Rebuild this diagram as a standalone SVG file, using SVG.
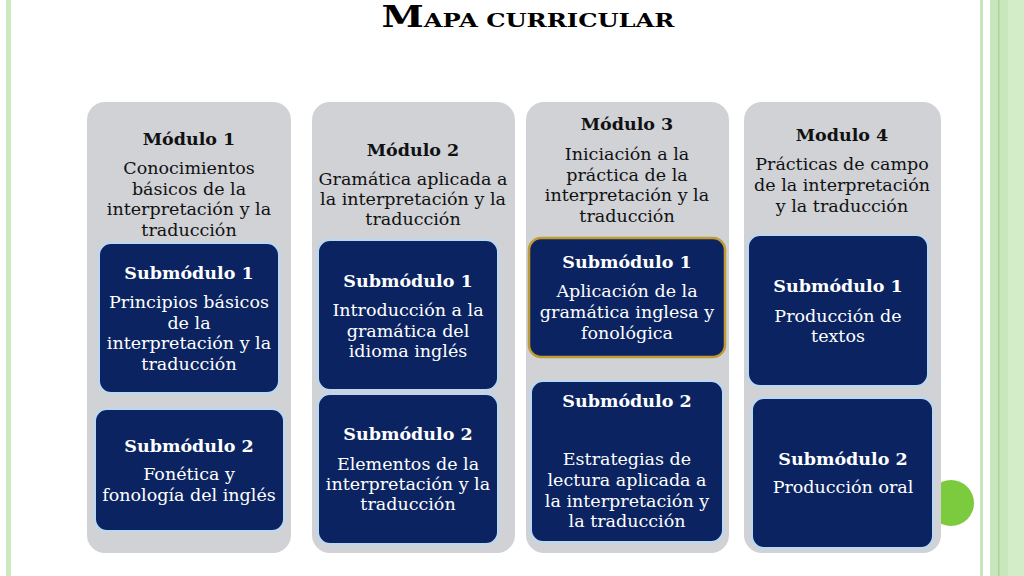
<svg xmlns="http://www.w3.org/2000/svg" width="1024" height="576" viewBox="0 0 1024 576">
<style>
.col{fill:#d0d2d6}
.sub{fill:#0b2461;stroke:#b9d9f2;stroke-width:2}
.gold{stroke:#c09a34;stroke-width:2.5}
.t{font-family:"DejaVu Serif",serif;font-size:17.5px;text-anchor:middle}
.dk{fill:#111}
.wh{fill:#fff}
.b{font-weight:bold}
</style>
<rect width="1024" height="576" fill="#fff"/>
<rect x="6" y="0" width="5" height="576" fill="#cde9c0"/>
<rect x="980" y="0" width="3" height="576" fill="#c8e6b9"/>
<rect x="990" y="0" width="34" height="576" fill="#c9e7bc"/>
<rect x="998" y="0" width="1.5" height="576" fill="#a9d591"/>
<rect x="1008" y="0" width="16" height="576" fill="#d3edc8"/>
<circle cx="951" cy="503" r="23" fill="#7ccb3e"/>
<text x="528" y="27" font-family="DejaVu Serif,serif" font-weight="bold" fill="#000" text-anchor="middle" textLength="293" lengthAdjust="spacingAndGlyphs"><tspan font-size="30">M</tspan><tspan font-size="19">APA CURRICULAR</tspan></text>
<g id="modulo1">
<rect class="col" x="87" y="102" width="204" height="451" rx="18"/>
<text class="t dk b" x="189" y="145">Módulo 1</text>
<text class="t dk" x="189" y="174">Conocimientos</text>
<text class="t dk" x="189" y="194.5">básicos de la</text>
<text class="t dk" x="189" y="215">interpretación y la</text>
<text class="t dk" x="189" y="235.5">traducción</text>
</g>
<g id="m1s1">
<rect class="sub" x="99" y="243" width="180" height="150" rx="12"/>
<text class="t wh b" x="189" y="279">Submódulo 1</text>
<text class="t wh" x="189" y="308">Principios básicos</text>
<text class="t wh" x="189" y="328.5">de la</text>
<text class="t wh" x="189" y="349">interpretación y la</text>
<text class="t wh" x="189" y="369.5">traducción</text>
</g>
<g id="m1s2">
<rect class="sub" x="95" y="409" width="189" height="122" rx="12"/>
<text class="t wh b" x="189" y="452">Submódulo 2</text>
<text class="t wh" x="189" y="480">Fonética y</text>
<text class="t wh" x="189" y="501">fonología del inglés</text>
</g>
<g id="modulo2">
<rect class="col" x="312" y="102" width="203" height="451" rx="18"/>
<text class="t dk b" x="413" y="156">Módulo 2</text>
<text class="t dk" x="413" y="185">Gramática aplicada a</text>
<text class="t dk" x="413" y="205">la interpretación y la</text>
<text class="t dk" x="413" y="225">traducción</text>
</g>
<g id="m2s1">
<rect class="sub" x="318" y="240" width="180" height="150" rx="12"/>
<text class="t wh b" x="408" y="287">Submódulo 1</text>
<text class="t wh" x="408" y="316">Introducción a la</text>
<text class="t wh" x="408" y="336.5">gramática del</text>
<text class="t wh" x="408" y="357">idioma inglés</text>
</g>
<g id="m2s2">
<rect class="sub" x="318" y="394" width="180" height="150" rx="12"/>
<text class="t wh b" x="408" y="440">Submódulo 2</text>
<text class="t wh" x="408" y="470">Elementos de la</text>
<text class="t wh" x="408" y="490">interpretación y la</text>
<text class="t wh" x="408" y="510">traducción</text>
</g>
<g id="modulo3">
<rect class="col" x="526" y="102" width="203" height="451" rx="18"/>
<text class="t dk b" x="627" y="130">Módulo 3</text>
<text class="t dk" x="627" y="160">Iniciación a la</text>
<text class="t dk" x="627" y="181">práctica de la</text>
<text class="t dk" x="627" y="201">interpretación y la</text>
<text class="t dk" x="627" y="222">traducción</text>
</g>
<g id="m3s1">
<rect class="sub gold" x="529" y="238" width="196" height="119" rx="12"/>
<text class="t wh b" x="627" y="268">Submódulo 1</text>
<text class="t wh" x="627" y="297">Aplicación de la</text>
<text class="t wh" x="627" y="318">gramática inglesa y</text>
<text class="t wh" x="627" y="339">fonológica</text>
</g>
<g id="m3s2">
<rect class="sub" x="531" y="381" width="192" height="161" rx="12"/>
<text class="t wh b" x="627" y="407">Submódulo 2</text>
<text class="t wh" x="627" y="465">Estrategias de</text>
<text class="t wh" x="627" y="486">lectura aplicada a</text>
<text class="t wh" x="627" y="507">la interpretación y</text>
<text class="t wh" x="627" y="527">la traducción</text>
</g>
<g id="modulo4">
<rect class="col" x="744" y="102" width="197" height="451" rx="18"/>
<text class="t dk b" x="842" y="141">Modulo 4</text>
<text class="t dk" x="842" y="170">Prácticas de campo</text>
<text class="t dk" x="842" y="191">de la interpretación</text>
<text class="t dk" x="842" y="212">y la traducción</text>
</g>
<g id="m4s1">
<rect class="sub" x="748" y="235" width="180" height="151" rx="12"/>
<text class="t wh b" x="838" y="292">Submódulo 1</text>
<text class="t wh" x="838" y="322">Producción de</text>
<text class="t wh" x="838" y="342">textos</text>
</g>
<g id="m4s2">
<rect class="sub" x="752" y="398" width="181" height="150" rx="12"/>
<text class="t wh b" x="843" y="465">Submódulo 2</text>
<text class="t wh" x="843" y="493">Producción oral</text>
</g>
<g id="connectors"/>
</svg>
